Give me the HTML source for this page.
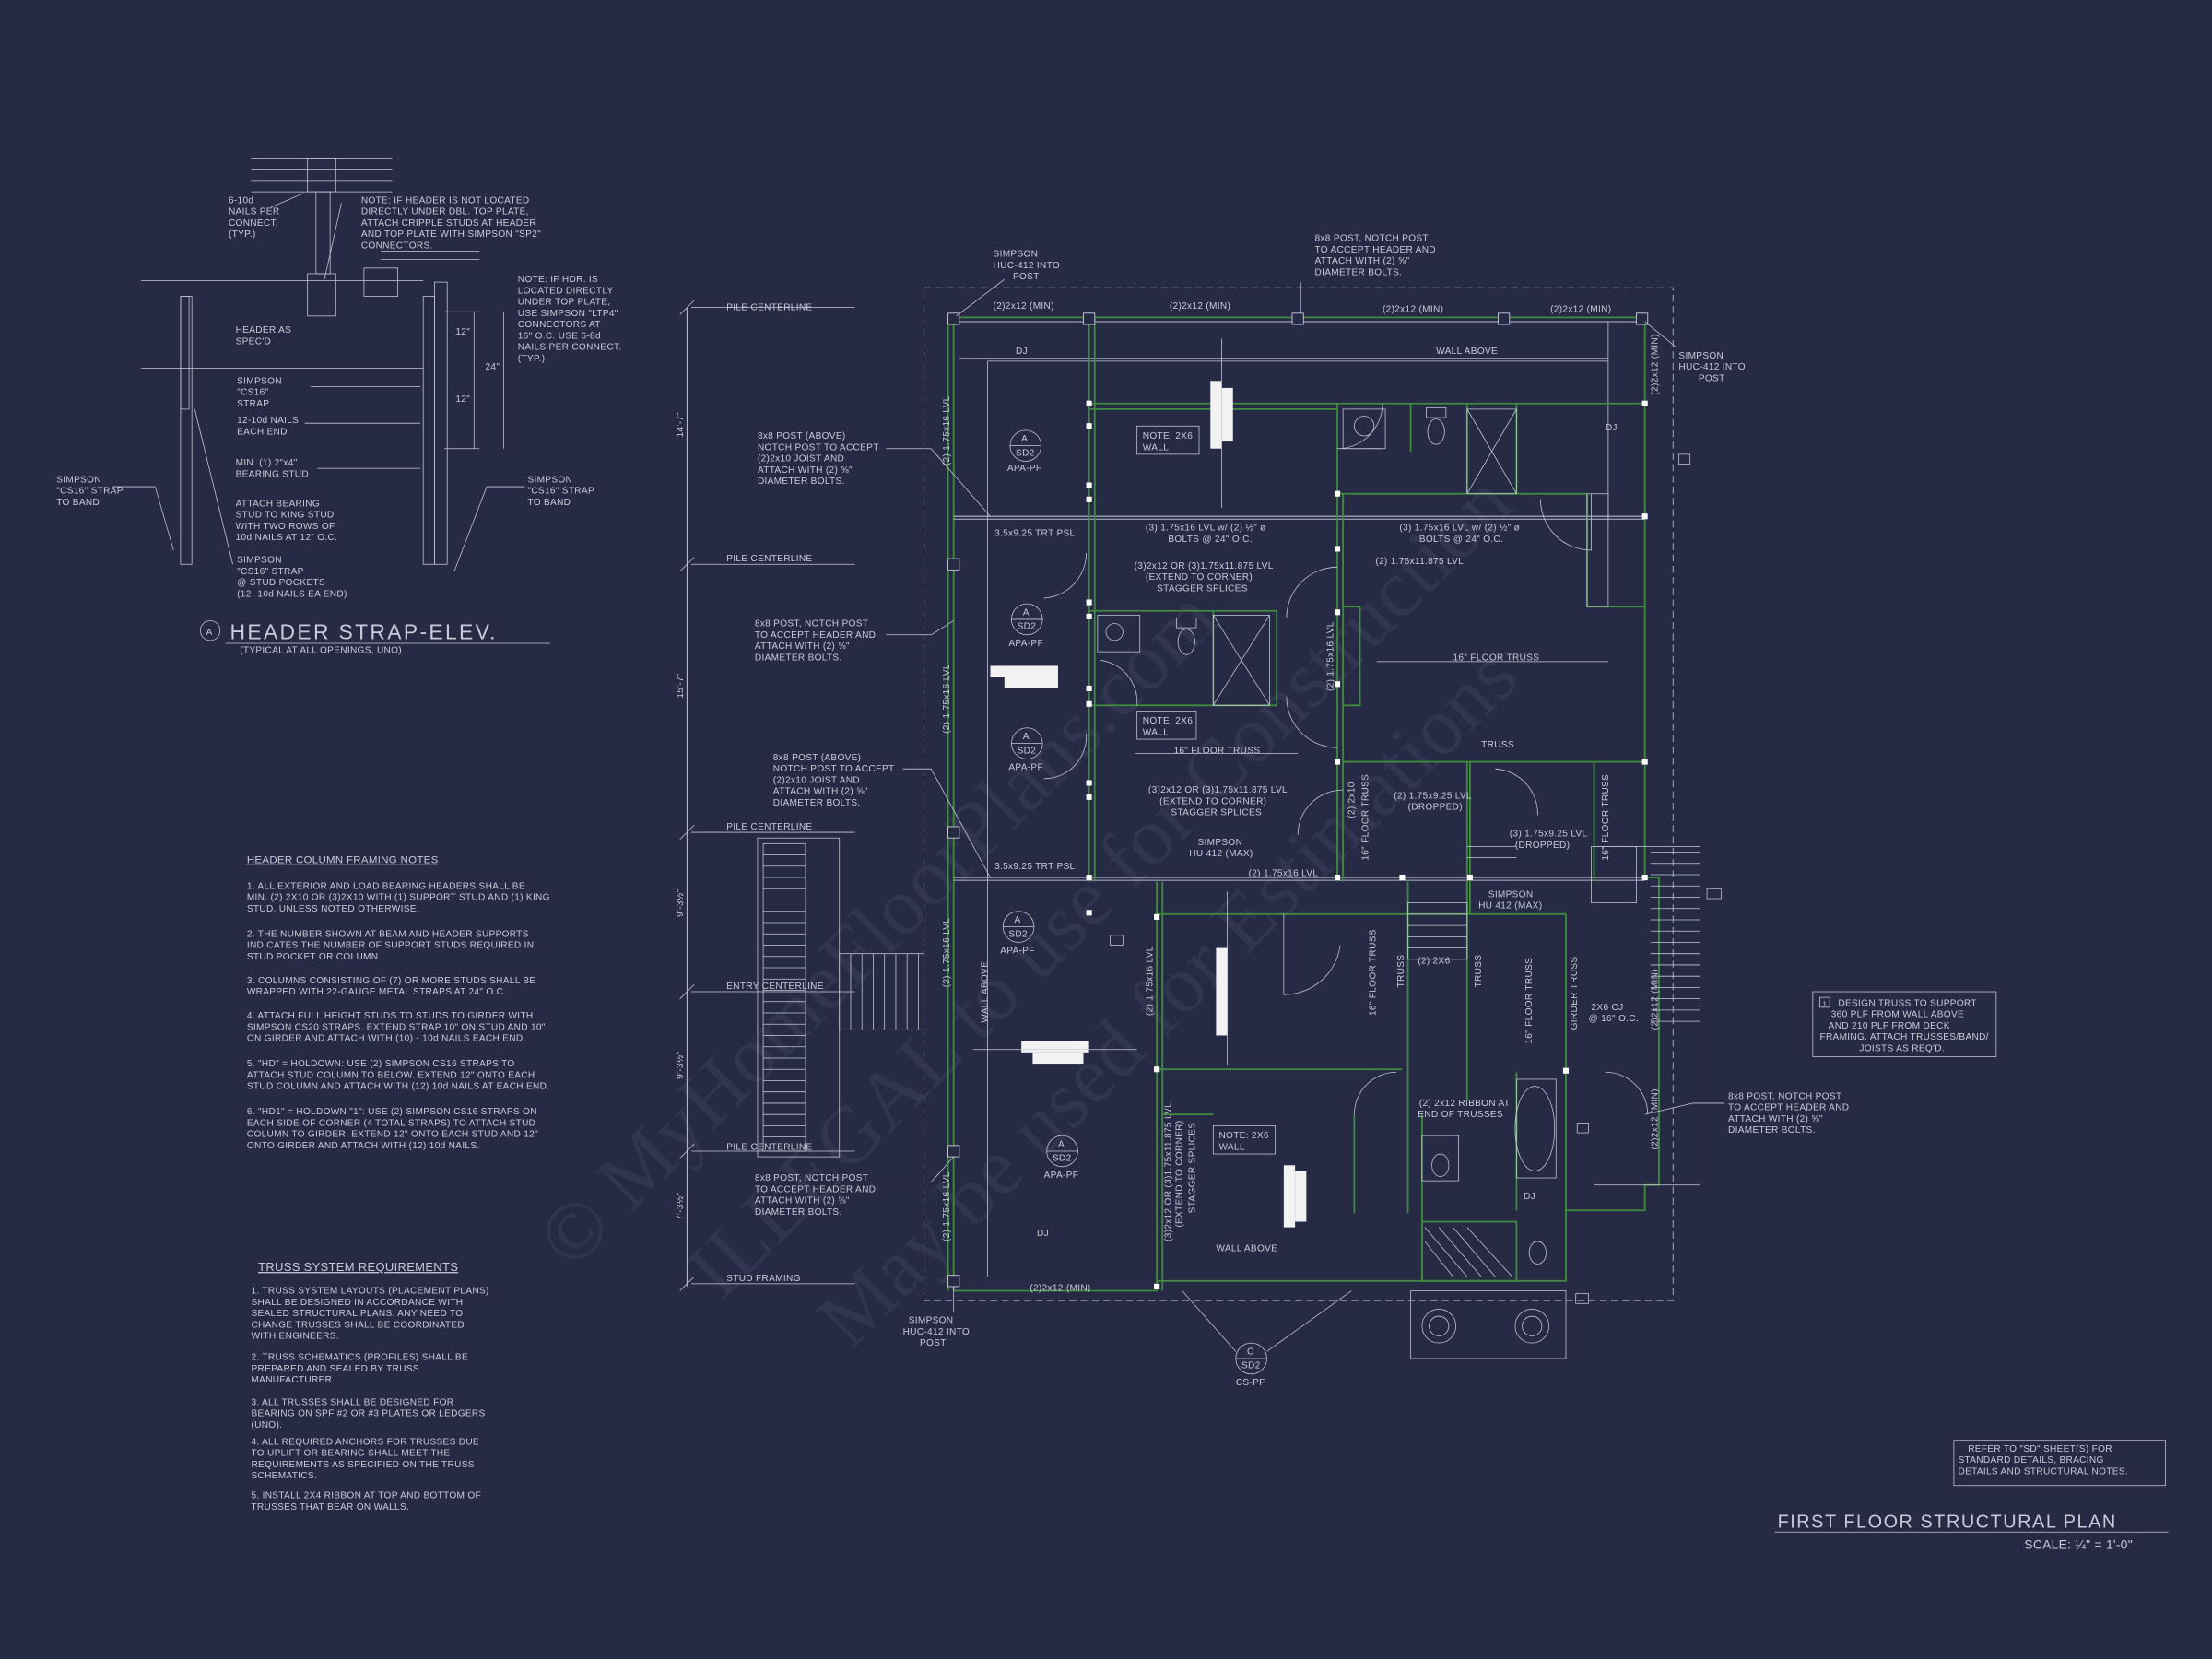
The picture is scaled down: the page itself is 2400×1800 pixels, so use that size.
<!DOCTYPE html>
<html><head><meta charset="utf-8"><style>
html,body{margin:0;padding:0;background:#262a45;}
svg{display:block}
text{font-family:"Liberation Sans",sans-serif;fill:#c9cbd8;font-size:6.6px;letter-spacing:0.2px}
.l{stroke:#b8bbcc;stroke-width:0.7;fill:none}
.t{stroke:#c8cad6;stroke-width:0.5;fill:none}
.g{stroke:#3f8a3f;stroke-width:1.2;fill:none}
.d{stroke:#9a9db0;stroke-width:0.7;fill:none;stroke-dasharray:5 3}
.w{fill:#f2f2f2}
.wm{font-family:"Liberation Serif",serif;fill:#3a3f58;font-size:58px;opacity:.55}
</style></head><body>
<svg width="2400" height="1800" viewBox="0 0 1568 1176" xmlns="http://www.w3.org/2000/svg">
<rect width="1568" height="1176" fill="#262a45"/>
<!-- watermark -->
<g transform="rotate(-45 780 640)">
<text class="wm" x="330" y="560">© MyHomeFloorPlans.com</text>
<text class="wm" x="390" y="650">ILLEGAL to use for Construction</text>
<text class="wm" x="430" y="740">May be used for Estimations</text>
</g>

<!-- Header strap detail -->
<g>
<line class="t" x1="178" y1="112" x2="278" y2="112"/><line class="t" x1="178" y1="120" x2="278" y2="120"/><line class="t" x1="178" y1="128" x2="278" y2="128"/><line class="t" x1="178" y1="136" x2="278" y2="136"/>
<rect class="t" x="218" y="112" width="20" height="24"/>
<rect class="t" x="224" y="136" width="10" height="58"/>
<rect class="t" x="218" y="194" width="20" height="30"/>
<line class="t" x1="100" y1="199" x2="300" y2="199"/>
<line class="t" x1="270" y1="178" x2="340" y2="178"/><line class="t" x1="270" y1="184" x2="340" y2="184"/>
<rect class="t" x="258" y="190" width="24" height="20"/>
<rect class="t" x="128" y="210" width="8" height="190"/><rect class="t" x="128" y="210" width="6" height="80"/>
<rect class="t" x="300" y="210" width="8" height="190"/><rect class="t" x="308" y="200" width="9" height="200"/>
<line class="t" x1="100" y1="261" x2="300" y2="261"/>
<line class="t" x1="315" y1="221" x2="340" y2="221"/><line class="t" x1="315" y1="318" x2="340" y2="318"/>
<line class="t" x1="336" y1="221" x2="336" y2="318"/><line class="t" x1="357" y1="221" x2="357" y2="318"/>
<text x="323" y="237">12"</text><text x="323" y="285">12"</text><text x="344" y="262">24"</text>
<text x="162" y="144">6-10d</text><text x="162" y="152">NAILS PER</text><text x="162" y="160">CONNECT.</text><text x="162" y="168">(TYP.)</text>
<text x="256" y="144">NOTE: IF HEADER IS NOT LOCATED</text><text x="256" y="152">DIRECTLY UNDER DBL. TOP PLATE,</text><text x="256" y="160">ATTACH CRIPPLE STUDS AT HEADER</text><text x="256" y="168">AND TOP PLATE WITH SIMPSON "SP2"</text><text x="256" y="176">CONNECTORS.</text>
<text x="367" y="200">NOTE: IF HDR. IS</text><text x="367" y="208">LOCATED DIRECTLY</text><text x="367" y="216">UNDER TOP PLATE,</text><text x="367" y="224">USE SIMPSON "LTP4"</text><text x="367" y="232">CONNECTORS AT</text><text x="367" y="240">16" O.C.  USE 6-8d</text><text x="367" y="248">NAILS PER CONNECT.</text><text x="367" y="256">(TYP.)</text>
<text x="167" y="236">HEADER AS</text><text x="167" y="244">SPEC'D</text>
<text x="168" y="272">SIMPSON</text><text x="168" y="280">"CS16"</text><text x="168" y="288">STRAP</text>
<text x="168" y="300">12-10d NAILS</text><text x="168" y="308">EACH END</text>
<text x="167" y="330">MIN. (1) 2"x4"</text><text x="167" y="338">BEARING STUD</text>
<text x="167" y="359">ATTACH BEARING</text><text x="167" y="367">STUD TO KING STUD</text><text x="167" y="375">WITH TWO ROWS OF</text><text x="167" y="383">10d NAILS AT 12" O.C.</text>
<text x="168" y="399">SIMPSON</text><text x="168" y="407">"CS16" STRAP</text><text x="168" y="415">@ STUD POCKETS</text><text x="168" y="423">(12- 10d NAILS EA END)</text>
<text x="40" y="342">SIMPSON</text><text x="40" y="350">"CS16" STRAP</text><text x="40" y="358">TO BAND</text>
<text x="374" y="342">SIMPSON</text><text x="374" y="350">"CS16" STRAP</text><text x="374" y="358">TO BAND</text>
<line class="t" x1="192" y1="147" x2="215" y2="137"/><line class="t" x1="242" y1="144" x2="230" y2="198"/>
<line class="t" x1="216" y1="300" x2="298" y2="300"/><line class="t" x1="220" y1="274" x2="298" y2="274"/>
<line class="t" x1="225" y1="332" x2="298" y2="332"/><line class="t" x1="165" y1="400" x2="138" y2="290"/>
<line class="t" x1="80" y1="345" x2="110" y2="345"/><line class="t" x1="110" y1="345" x2="123" y2="390"/>
<line class="t" x1="372" y1="345" x2="345" y2="345"/><line class="t" x1="345" y1="345" x2="322" y2="405"/>
<circle class="t" cx="149" cy="447" r="7"/><text x="146" y="450">A</text>
<text x="163" y="453" style="font-size:15px;letter-spacing:1.5px">HEADER STRAP-ELEV.</text>
<line class="t" x1="160" y1="456" x2="390" y2="456"/>
<text x="170" y="463">(TYPICAL AT ALL OPENINGS, UNO)</text>
</g>

<!-- notes -->
<g>
<text x="175" y="612" style="font-size:7.5px;text-decoration:underline">HEADER COLUMN FRAMING NOTES</text>
<text x="175" y="630">1. ALL EXTERIOR AND LOAD BEARING HEADERS SHALL BE</text><text x="175" y="638">MIN. (2) 2X10 OR (3)2X10 WITH (1) SUPPORT STUD AND (1) KING</text><text x="175" y="646">STUD, UNLESS NOTED OTHERWISE.</text>
<text x="175" y="664">2. THE NUMBER SHOWN AT BEAM AND HEADER SUPPORTS</text><text x="175" y="672">INDICATES THE NUMBER OF SUPPORT STUDS REQUIRED IN</text><text x="175" y="680">STUD POCKET OR COLUMN.</text>
<text x="175" y="697">3. COLUMNS CONSISTING OF (7) OR MORE STUDS SHALL BE</text><text x="175" y="705">WRAPPED WITH 22-GAUGE METAL STRAPS AT 24" O.C.</text>
<text x="175" y="722">4. ATTACH FULL HEIGHT STUDS TO STUDS TO GIRDER WITH</text><text x="175" y="730">SIMPSON CS20 STRAPS. EXTEND STRAP 10" ON STUD AND 10"</text><text x="175" y="738">ON GIRDER AND ATTACH WITH (10) - 10d NAILS EACH END.</text>
<text x="175" y="756">5. "HD" = HOLDOWN: USE (2) SIMPSON CS16 STRAPS TO</text><text x="175" y="764">ATTACH STUD COLUMN TO BELOW. EXTEND 12" ONTO EACH</text><text x="175" y="772">STUD COLUMN AND ATTACH WITH (12) 10d NAILS AT EACH END.</text>
<text x="175" y="790">6. "HD1" = HOLDOWN "1": USE (2) SIMPSON CS16 STRAPS ON</text><text x="175" y="798">EACH SIDE OF CORNER (4 TOTAL STRAPS) TO ATTACH STUD</text><text x="175" y="806">COLUMN TO GIRDER. EXTEND 12" ONTO EACH STUD AND 12"</text><text x="175" y="814">ONTO GIRDER AND ATTACH WITH (12) 10d NAILS.</text>
<text x="183" y="901" style="font-size:8.5px;text-decoration:underline">TRUSS SYSTEM REQUIREMENTS</text>
<text x="178" y="917">1. TRUSS SYSTEM LAYOUTS (PLACEMENT PLANS)</text><text x="178" y="925">SHALL BE DESIGNED IN ACCORDANCE WITH</text><text x="178" y="933">SEALED STRUCTURAL PLANS. ANY NEED TO</text><text x="178" y="941">CHANGE TRUSSES SHALL BE COORDINATED</text><text x="178" y="949">WITH  ENGINEERS.</text>
<text x="178" y="964">2. TRUSS SCHEMATICS (PROFILES) SHALL BE</text><text x="178" y="972">PREPARED AND SEALED BY TRUSS</text><text x="178" y="980">MANUFACTURER.</text>
<text x="178" y="996">3. ALL TRUSSES SHALL BE DESIGNED FOR</text><text x="178" y="1004">BEARING ON SPF #2 OR #3 PLATES OR LEDGERS</text><text x="178" y="1012">(UNO).</text>
<text x="178" y="1024">4. ALL REQUIRED ANCHORS FOR TRUSSES DUE</text><text x="178" y="1032">TO UPLIFT OR BEARING SHALL MEET THE</text><text x="178" y="1040">REQUIREMENTS AS SPECIFIED ON THE TRUSS</text><text x="178" y="1048">SCHEMATICS.</text>
<text x="178" y="1062">5. INSTALL 2X4 RIBBON AT TOP AND BOTTOM OF</text><text x="178" y="1070">TRUSSES THAT BEAR ON WALLS.</text>
</g>

<!-- dimension line left -->
<g>
<line class="l" x1="487" y1="218" x2="487" y2="912"/>
<line class="t" x1="482" y1="223" x2="492" y2="213"/><line class="t" x1="482" y1="405" x2="492" y2="395"/><line class="t" x1="482" y1="595" x2="492" y2="585"/><line class="t" x1="482" y1="708" x2="492" y2="698"/><line class="t" x1="482" y1="821" x2="492" y2="811"/><line class="t" x1="482" y1="915" x2="492" y2="905"/>
<line class="t" x1="490" y1="218" x2="606" y2="218"/><line class="t" x1="490" y1="400" x2="606" y2="400"/><line class="t" x1="490" y1="590" x2="606" y2="590"/><line class="t" x1="490" y1="703" x2="606" y2="703"/><line class="t" x1="490" y1="816" x2="606" y2="816"/><line class="t" x1="490" y1="910" x2="606" y2="910"/>
<text x="515" y="220">PILE CENTERLINE</text><text x="515" y="398">PILE CENTERLINE</text><text x="515" y="588">PILE CENTERLINE</text><text x="515" y="701">ENTRY CENTERLINE</text><text x="515" y="815">PILE CENTERLINE</text><text x="515" y="908">STUD FRAMING</text>
<text transform="rotate(-90 484 310)" x="484" y="310">14'-7"</text>
<text transform="rotate(-90 484 495)" x="484" y="495">15'-7"</text>
<text transform="rotate(-90 484 650)" x="484" y="650">9'-3½"</text>
<text transform="rotate(-90 484 765)" x="484" y="765">9'-3½"</text>
<text transform="rotate(-90 484 865)" x="484" y="865">7'-3½"</text>
</g>

<!-- left stairs -->
<g>
<rect class="t" x="537" y="594" width="58" height="226"/>
<rect class="t" x="541" y="598" width="30" height="218"/>
<g class="t">
<path d="M541 606H571M541 614H571M541 622H571M541 630H571M541 638H571M541 646H571M541 654H571M541 662H571M541 670H571M541 678H571M541 686H571M541 694H571M541 702H571M541 710H571M541 718H571M541 726H571M541 734H571M541 742H571M541 750H571M541 758H571M541 766H571M541 774H571M541 782H571M541 790H571M541 798H571M541 806H571" class="t"/>
<rect class="t" x="595" y="676" width="60" height="54"/>
<path d="M603 676V730M611 676V730M619 676V730M627 676V730M635 676V730M643 676V730M651 676V730" class="t"/>
</g>
</g>

<!-- plan outline -->
<g>
<path class="d" d="M655 204H1186V922H655Z"/>
<path class="g" d="M676 225H1166V622H1176V840H1166V858H1110V908H820V915H676Z"/>
<path class="g" d="M672 225V915"/>
<line class="l" x1="676" y1="228" x2="1166" y2="228" stroke-width="1.6"/>
<line class="l" x1="676" y1="366" x2="1166" y2="366"/><line class="l" x1="676" y1="368" x2="1166" y2="368"/>
<line class="l" x1="676" y1="622" x2="1166" y2="622"/><line class="l" x1="676" y1="624" x2="1166" y2="624"/>
<line class="t" x1="680" y1="254" x2="1140" y2="254"/><line class="t" x1="700" y1="256" x2="1140" y2="256"/>
<line class="t" x1="700" y1="256" x2="700" y2="905"/><line class="t" x1="1140" y1="228" x2="1140" y2="368"/>
<!-- interior walls -->
<path class="g" d="M772 225V625M776 225V625"/>
<path class="g" d="M772 286H1166M772 290H948"/>
<path class="g" d="M948 286V350H1125M948 350V625M952 350V625"/>
<path class="g" d="M772 433H905V500H770M860 433V500M905 433V500"/>
<path class="g" d="M952 430H964V500H952M1125 350V430H1166"/>
<path class="g" d="M1040 286V350M1075 286V350M1000 286V320"/>
<path class="g" d="M952 540H1166M1040 540V648M1042 540V648M1130 540V625"/>
<path class="g" d="M820 625V915M824 625V915M820 648H1110M820 758H994M998 625V860M1040 625V780M1110 648V858"/>
<path class="g" d="M824 790H860M960 790V860M1008 790V908M1075 760V858"/>
<path class="g" d="M1008 866H1075V908H1008Z"/>
<!-- posts -->
<g fill="#262a45" stroke="#c8cad6" stroke-width="0.6">
<rect x="672" y="222" width="8" height="8"/><rect x="768" y="222" width="8" height="8"/><rect x="916" y="222" width="8" height="8"/><rect x="1062" y="222" width="8" height="8"/><rect x="1160" y="222" width="8" height="8"/>
<rect x="672" y="396" width="8" height="8"/><rect x="672" y="586" width="8" height="8"/><rect x="672" y="812" width="8" height="8"/><rect x="672" y="904" width="8" height="8"/>
</g>
<g fill="#fff">
<rect x="770" y="284" width="4" height="4"/><rect x="770" y="300" width="4" height="4"/><rect x="770" y="342" width="4" height="4"/><rect x="770" y="352" width="4" height="4"/><rect x="1164" y="364" width="4" height="4"/>
<rect x="770" y="425" width="4" height="4"/><rect x="770" y="435" width="4" height="4"/><rect x="770" y="486" width="4" height="4"/><rect x="770" y="497" width="4" height="4"/>
<rect x="770" y="553" width="4" height="4"/><rect x="770" y="563" width="4" height="4"/><rect x="770" y="620" width="4" height="4"/><rect x="770" y="645" width="4" height="4"/>
<rect x="946" y="348" width="4" height="4"/><rect x="946" y="387" width="4" height="4"/><rect x="946" y="432" width="4" height="4"/><rect x="946" y="483" width="4" height="4"/><rect x="946" y="538" width="4" height="4"/><rect x="1164" y="284" width="4" height="4"/><rect x="1164" y="538" width="4" height="4"/>
<rect x="818" y="648" width="4" height="4"/><rect x="818" y="756" width="4" height="4"/><rect x="818" y="910" width="4" height="4"/><rect x="946" y="620" width="4" height="4"/><rect x="992" y="620" width="4" height="4"/><rect x="1040" y="620" width="4" height="4"/><rect x="1164" y="620" width="4" height="4"/><rect x="1108" y="757" width="4" height="4"/>
</g>
<!-- door swings -->
<path class="t" d="M948 318A32 32 0 0 0 980 286M948 318H980"/>
<path class="t" d="M770 392A32 32 0 0 1 740 424M770 520A30 30 0 0 1 740 552"/>
<path class="t" d="M948 402A36 36 0 0 0 912 438M948 530A36 36 0 0 1 912 494"/>
<path class="t" d="M1128 350V390A36 36 0 0 1 1092 354"/>
<path class="t" d="M780 468A30 30 0 0 1 806 500M952 560A32 32 0 0 0 920 592"/>
<path class="t" d="M1060 545A32 32 0 0 1 1090 578M910 648V705A40 40 0 0 0 950 670"/>
<path class="t" d="M960 790A30 30 0 0 1 990 760M1138 760A30 30 0 0 1 1168 790"/>
<path class="t" d="M1040 600H1075M1040 608H1075"/>
<!-- fixtures -->
<rect class="t" x="952" y="290" width="30" height="28"/><circle class="t" cx="967" cy="302" r="7"/>
<ellipse class="t" cx="1018" cy="306" rx="6" ry="9"/><rect class="t" x="1011" y="289" width="14" height="7"/>
<path class="t" d="M1040 290H1075V350H1040ZM1040 290L1075 350M1075 290L1040 350"/>
<rect class="t" x="778" y="436" width="30" height="26"/><circle class="t" cx="790" cy="448" r="6"/>
<ellipse class="t" cx="841" cy="455" rx="6" ry="9"/><rect class="t" x="834" y="438" width="14" height="7"/>
<path class="t" d="M860 436H900V500H860ZM860 436L900 500M900 436L860 500"/>
<rect class="t" x="1008" y="805" width="26" height="32"/><ellipse class="t" cx="1021" cy="826" rx="6" ry="8"/>
<ellipse class="t" cx="1088" cy="800" rx="14" ry="30"/><rect class="t" x="1075" y="765" width="28" height="70"/>
<ellipse class="t" cx="1090" cy="888" rx="6" ry="8"/>
<path class="t" d="M1010 870L1040 905M1020 870L1050 905M1030 870L1060 905M1040 870L1072 905M1010 880L1030 905"/>
<rect class="t" x="1000" y="915" width="110" height="48"/>
<circle class="t" cx="1020" cy="940" r="12"/><circle class="t" cx="1020" cy="940" r="7"/><circle class="t" cx="1086" cy="940" r="12"/><circle class="t" cx="1086" cy="940" r="7"/>
<!-- stair interior -->
<rect class="t" x="998" y="640" width="42" height="40"/>
<path class="t" d="M998 648H1040M998 656H1040M998 664H1040M998 672H1040"/>
<rect class="t" x="1130" y="600" width="75" height="240"/>
<path class="t" d="M1170 604H1205M1170 612H1205M1170 620H1205M1170 628H1205M1170 636H1205M1170 644H1205M1170 652H1205M1170 660H1205M1170 668H1205M1170 676H1205M1170 684H1205M1170 692H1205M1170 700H1205M1170 708H1205M1170 716H1205M1170 724H1205"/>
<path class="t" d="M1125 350H1140V430H1125ZM1128 600V640H1160V600Z"/>
<!-- white beams -->
<rect class="w" x="858" y="270" width="8" height="48"/><rect class="w" x="866" y="275" width="8" height="38"/>
<rect class="w" x="702" y="472" width="48" height="8"/><rect class="w" x="712" y="480" width="38" height="8"/>
<rect class="w" x="862" y="672" width="8" height="62"/>
<rect class="w" x="724" y="738" width="48" height="8"/><rect class="w" x="732" y="746" width="36" height="8"/>
<rect class="w" x="910" y="826" width="8" height="44"/><rect class="w" x="918" y="830" width="8" height="36"/>
<!-- arrows -->
<line class="t" x1="866" y1="240" x2="866" y2="360"/><line class="t" x1="976" y1="469" x2="1140" y2="469"/><line class="t" x1="805" y1="534" x2="920" y2="534"/><line class="t" x1="870" y1="632" x2="870" y2="755"/><line class="t" x1="690" y1="744" x2="806" y2="744"/>
<!-- labels -->
<text x="704" y="219">(2)2x12 (MIN)</text><text x="829" y="219">(2)2x12 (MIN)</text><text x="980" y="221">(2)2x12 (MIN)</text><text x="1099" y="221">(2)2x12 (MIN)</text>
<text x="720" y="251">DJ</text><text x="1018" y="251">WALL ABOVE</text><text x="1138" y="305">DJ</text><text x="1080" y="850">DJ</text><text x="735" y="876">DJ</text><text x="862" y="887">WALL ABOVE</text>
<text x="704" y="182">SIMPSON</text><text x="704" y="190">HUC-412 INTO</text><text x="718" y="198">POST</text>
<text x="932" y="171">8x8 POST, NOTCH POST</text><text x="932" y="179">TO ACCEPT HEADER AND</text><text x="932" y="187">ATTACH WITH (2) ⅝"</text><text x="932" y="195">DIAMETER BOLTS.</text>
<text x="1190" y="254">SIMPSON</text><text x="1190" y="262">HUC-412 INTO</text><text x="1204" y="270">POST</text>
<text x="537" y="311">8x8 POST (ABOVE)</text><text x="537" y="319">NOTCH POST TO ACCEPT</text><text x="537" y="327">(2)2x10 JOIST AND</text><text x="537" y="335">ATTACH WITH (2) ⅝"</text><text x="537" y="343">DIAMETER BOLTS.</text>
<text x="535" y="444">8x8 POST, NOTCH POST</text><text x="535" y="452">TO ACCEPT HEADER AND</text><text x="535" y="460">ATTACH WITH (2) ⅝"</text><text x="535" y="468">DIAMETER BOLTS.</text>
<text x="548" y="539">8x8 POST (ABOVE)</text><text x="548" y="547">NOTCH POST TO ACCEPT</text><text x="548" y="555">(2)2x10 JOIST AND</text><text x="548" y="563">ATTACH WITH (2) ⅝"</text><text x="548" y="571">DIAMETER BOLTS.</text>
<text x="535" y="837">8x8 POST, NOTCH POST</text><text x="535" y="845">TO ACCEPT HEADER AND</text><text x="535" y="853">ATTACH WITH (2) ⅝"</text><text x="535" y="861">DIAMETER BOLTS.</text>
<text x="1225" y="779">8x8 POST, NOTCH POST</text><text x="1225" y="787">TO ACCEPT HEADER AND</text><text x="1225" y="795">ATTACH WITH (2) ⅝"</text><text x="1225" y="803">DIAMETER BOLTS.</text>
<text x="644" y="938">SIMPSON</text><text x="640" y="946">HUC-412 INTO</text><text x="652" y="954">POST</text>
<text x="705" y="380">3.5x9.25 TRT PSL</text><text x="705" y="616">3.5x9.25 TRT PSL</text>
<text x="812" y="376">(3) 1.75x16 LVL w/ (2) ½" ø</text><text x="828" y="384">BOLTS @ 24" O.C.</text>
<text x="992" y="376">(3) 1.75x16 LVL w/ (2) ½" ø</text><text x="1006" y="384">BOLTS @ 24" O.C.</text>
<text x="975" y="400">(2) 1.75x11.875 LVL</text>
<text x="804" y="403">(3)2x12 OR (3)1.75x11.875 LVL</text><text x="812" y="411">(EXTEND TO CORNER)</text><text x="820" y="419">STAGGER SPLICES</text>
<text x="814" y="562">(3)2x12 OR (3)1.75x11.875 LVL</text><text x="822" y="570">(EXTEND TO CORNER)</text><text x="830" y="578">STAGGER SPLICES</text>
<text x="1030" y="468">16" FLOOR TRUSS</text><text x="832" y="534">16" FLOOR TRUSS</text><text x="1050" y="530">TRUSS</text>
<text x="988" y="566">(2) 1.75x9.25 LVL</text><text x="998" y="574">(DROPPED)</text>
<text x="1070" y="593">(3) 1.75x9.25 LVL</text><text x="1074" y="601">(DROPPED)</text>
<text x="849" y="599">SIMPSON</text><text x="843" y="607">HU 412 (MAX)</text>
<text x="1055" y="636">SIMPSON</text><text x="1048" y="644">HU 412 (MAX)</text>
<text x="885" y="621">(2) 1.75x16 LVL</text>
<text x="1005" y="683">(2) 2X6</text><text x="1128" y="716">2X6 CJ</text><text x="1126" y="724">@ 16" O.C.</text>
<text x="1006" y="784">(2) 2x12 RIBBON AT</text><text x="1005" y="792">END OF TRUSSES</text>
<text x="730" y="915">(2)2x12 (MIN)</text>
<g>
<rect class="t" x="806" y="302" width="44" height="20"/><text x="810" y="311">NOTE: 2X6</text><text x="810" y="319">WALL</text>
<rect class="t" x="806" y="504" width="42" height="20"/><text x="810" y="513">NOTE: 2X6</text><text x="810" y="521">WALL</text>
<rect class="t" x="860" y="798" width="44" height="20"/><text x="864" y="807">NOTE: 2X6</text><text x="864" y="815">WALL</text>
</g>
<text transform="rotate(-90 673 330)" x="673" y="330">(2) 1.75x16 LVL</text>
<text transform="rotate(-90 673 520)" x="673" y="520">(2) 1.75x16 LVL</text>
<text transform="rotate(-90 673 700)" x="673" y="700">(2) 1.75x16 LVL</text>
<text transform="rotate(-90 673 880)" x="673" y="880">(2) 1.75x16 LVL</text>
<text transform="rotate(-90 700 725)" x="700" y="725">WALL ABOVE</text>
<text transform="rotate(-90 817 720)" x="817" y="720">(2) 1.75x16 LVL</text>
<text transform="rotate(-90 945 490)" x="945" y="490">(2) 1.75x16 LVL</text>
<text transform="rotate(-90 960 580)" x="960" y="580">(2) 2x10</text>
<text transform="rotate(-90 970 610)" x="970" y="610">16" FLOOR TRUSS</text>
<text transform="rotate(-90 975 720)" x="975" y="720">16" FLOOR TRUSS</text>
<text transform="rotate(-90 1140 610)" x="1140" y="610">16" FLOOR TRUSS</text>
<text transform="rotate(-90 1086 740)" x="1086" y="740">16" FLOOR TRUSS</text>
<text transform="rotate(-90 1118 730)" x="1118" y="730">GIRDER TRUSS</text>
<text transform="rotate(-90 995 700)" x="995" y="700">TRUSS</text>
<text transform="rotate(-90 1050 700)" x="1050" y="700">TRUSS</text>
<text transform="rotate(-90 1175 280)" x="1175" y="280">(2)2x12 (MIN)</text>
<text transform="rotate(-90 1175 815)" x="1175" y="815">(2)2x12 (MIN)</text>
<text transform="rotate(-90 1175 730)" x="1175" y="730">(2)2x12 (MIN)</text>
<text transform="rotate(-90 830 880)" x="830" y="880">(3)2x12 OR (3)1.75x11.875 LVL</text>
<text transform="rotate(-90 838 870)" x="838" y="870">(EXTEND TO CORNER)</text>
<text transform="rotate(-90 847 860)" x="847" y="860">STAGGER SPLICES</text>
<!-- section bubbles -->
<g>
<circle class="t" cx="727" cy="316" r="11"/><line class="t" x1="716" y1="316" x2="738" y2="316"/><text x="724" y="313">A</text><text x="720" y="323">SD2</text><text x="714" y="334">APA-PF</text>
<circle class="t" cx="728" cy="439" r="11"/><line class="t" x1="717" y1="439" x2="739" y2="439"/><text x="725" y="436">A</text><text x="721" y="446">SD2</text><text x="715" y="458">APA-PF</text>
<circle class="t" cx="728" cy="527" r="11"/><line class="t" x1="717" y1="527" x2="739" y2="527"/><text x="725" y="524">A</text><text x="721" y="534">SD2</text><text x="715" y="546">APA-PF</text>
<circle class="t" cx="722" cy="657" r="11"/><line class="t" x1="711" y1="657" x2="733" y2="657"/><text x="719" y="654">A</text><text x="715" y="664">SD2</text><text x="709" y="676">APA-PF</text>
<circle class="t" cx="753" cy="816" r="11"/><line class="t" x1="742" y1="816" x2="764" y2="816"/><text x="750" y="813">A</text><text x="746" y="823">SD2</text><text x="740" y="835">APA-PF</text>
<circle class="t" cx="887" cy="963" r="11"/><line class="t" x1="876" y1="963" x2="898" y2="963"/><text x="884" y="960">C</text><text x="880" y="970">SD2</text><text x="876" y="982">CS-PF</text>
<path class="t" d="M838 915L876 958M958 915L898 958"/>
</g>
<!-- leader lines -->
<path class="t" d="M712 198L678 224M922 200V222M1188 246L1166 228M628 318H660L702 366M628 450H660L676 440M640 545H660L702 622M628 838H660L676 820M1222 782H1200L1166 790M676 930L676 912"/>
<rect class="t" x="1190" y="322" width="8" height="7"/><rect class="t" x="1210" y="630" width="10" height="7"/><rect class="t" x="1117" y="917" width="9" height="7"/><rect class="t" x="1118" y="796" width="8" height="7"/><rect class="t" x="787" y="663" width="9" height="7"/>
</g>

<!-- right notes -->
<rect class="t" x="1285" y="703" width="130" height="46"/>
<rect class="t" x="1290" y="707" width="7" height="7"/><text x="1292" y="713" style="font-size:5px">1</text>
<text x="1303" y="713">DESIGN TRUSS TO SUPPORT</text><text x="1298" y="721">360 PLF FROM WALL ABOVE</text><text x="1296" y="729">AND 210 PLF FROM DECK</text><text x="1290" y="737">FRAMING. ATTACH TRUSSES/BAND/</text><text x="1318" y="745">JOISTS AS REQ'D.</text>
<rect class="t" x="1385" y="1021" width="150" height="32"/>
<text x="1395" y="1029">REFER TO "SD" SHEET(S) FOR</text><text x="1388" y="1037">STANDARD DETAILS, BRACING</text><text x="1388" y="1045">DETAILS AND STRUCTURAL NOTES.</text>
<text x="1260" y="1083" style="font-size:13px;letter-spacing:1px">FIRST FLOOR STRUCTURAL PLAN</text>
<line class="t" x1="1258" y1="1086" x2="1537" y2="1086"/>
<text x="1435" y="1098" style="font-size:9px">SCALE: ¼" = 1'-0"</text>
</svg>
</body></html>
